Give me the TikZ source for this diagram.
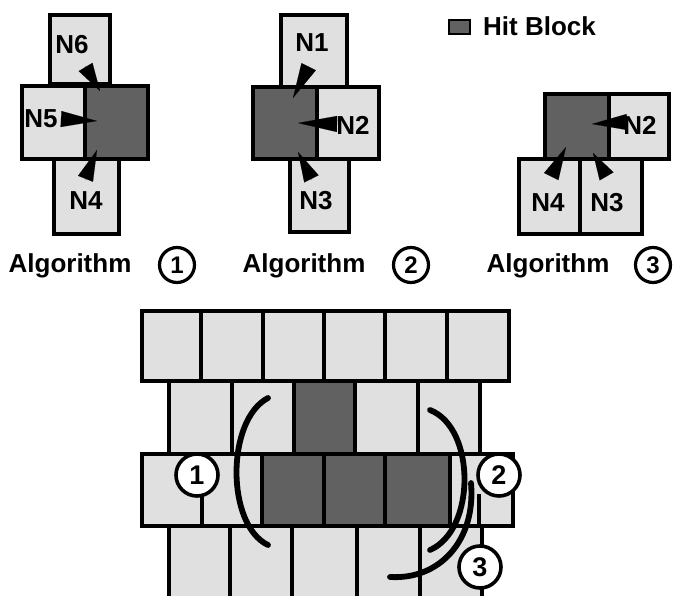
\documentclass[tikz,border=0pt]{standalone}
\usepackage{fontspec}
\setmainfont{Liberation Sans}
\usetikzlibrary{arrows.meta}
\begin{document}
\begin{tikzpicture}[x=1pt,y=-1pt,
  nb/.style={draw, line width=3.6pt, fill=black!12, inner sep=0pt, anchor=north west},
  hit/.style={nb, fill=black!62},
  gcell/.style={draw, line width=4.4pt, fill=black!12, inner sep=0pt, anchor=north west},
  ghit/.style={gcell, fill=black!62},
  lbl/.style={font=\bfseries\fontsize{26}{29}\selectfont, inner sep=0pt},
  algtxt/.style={font=\bfseries\fontsize{26}{29}\selectfont, inner sep=0pt},
  smallcirc/.style={circle, draw, line width=3.2pt, fill=white, minimum size=35pt, inner sep=0pt, font=\bfseries\fontsize{24}{27}\selectfont},
  bigcirc/.style={circle, draw, line width=3.6pt, fill=white, minimum size=42pt, inner sep=0pt, font=\bfseries\fontsize{27}{30}\selectfont},
  wedgearrow/.style={line width=0.1pt, -{Triangle[length=#1, width=16pt]}},
  arcline/.style={line width=5.8pt, line cap=round}
]
\clip (0,0) rectangle (675,596);
\fill[white] (0,0) rectangle (675,596);

% ---------- Algorithm 1 ----------
\node[nb, minimum width=60pt, minimum height=69pt] (a1n6) at (48,13) {};
\node[nb, minimum width=63pt, minimum height=73pt] (a1n5) at (20,84) {};
\node[nb, minimum width=65pt, minimum height=75pt] (a1n4) at (52,157) {};
\node[hit, minimum width=63pt, minimum height=73pt] (a1h) at (83,84) {};
\node[lbl] (a1l6) at (72,45) {N6};
\node[lbl] (a1l5) at (41,119) {N5};
\node[lbl] (a1l4) at (86,201) {N4};
\coordinate (a1t6) at (85,66);  \coordinate (a1p6) at (100,91);
\coordinate (a1t5) at (60,119); \coordinate (a1p5) at (97,121);
\coordinate (a1t4) at (85,180); \coordinate (a1p4) at (97,150);
\draw[wedgearrow=28pt] (a1t6) -- (a1p6);
\draw[wedgearrow=36pt] (a1t5) -- (a1p5);
\draw[wedgearrow=31pt] (a1t4) -- (a1p4);
\node[algtxt] (a1txt) at (70,266) {Algorithm};
\node[smallcirc] (a1c) at (177,265) {1};

% ---------- Algorithm 2 ----------
\node[nb, minimum width=66pt, minimum height=72pt] (a2n1) at (279,13) {};
\node[nb, minimum width=62pt, minimum height=72pt] (a2n2) at (315,85) {};
\node[nb, minimum width=59pt, minimum height=73pt] (a2n3) at (288,157) {};
\node[hit, minimum width=64pt, minimum height=72pt] (a2h) at (251,85) {};
\node[lbl] (a2l1) at (312,43) {N1};
\node[lbl] (a2l2) at (353,125) {N2};
\node[lbl] (a2l3) at (316,201) {N3};
\coordinate (a2t1) at (309,66);  \coordinate (a2p1) at (293,98);
\coordinate (a2t2) at (338,124); \coordinate (a2p2) at (298,123);
\coordinate (a2t3) at (312,180); \coordinate (a2p3) at (298,152);
\draw[wedgearrow=35pt] (a2t1) -- (a2p1);
\draw[wedgearrow=39pt] (a2t2) -- (a2p2);
\draw[wedgearrow=30pt] (a2t3) -- (a2p3);
\node[algtxt] (a2txt) at (304,266) {Algorithm};
\node[smallcirc] (a2c) at (411,265) {2};

% ---------- Algorithm 3 ----------
\node[nb, minimum width=60pt, minimum height=65pt] (a3n2) at (607,92) {};
\node[nb, minimum width=61pt, minimum height=75pt] (a3n4) at (517,157) {};
\node[nb, minimum width=62pt, minimum height=75pt] (a3n3) at (578,157) {};
\node[hit, minimum width=64pt, minimum height=65pt] (a3h) at (543,92) {};
\node[lbl] (a3l2) at (640,125) {N2};
\node[lbl] (a3l4) at (548,203) {N4};
\node[lbl] (a3l3) at (607,203) {N3};
\coordinate (a3t2) at (628,122); \coordinate (a3p2) at (592,124);
\coordinate (a3t4) at (551,177); \coordinate (a3p4) at (566,147);
\coordinate (a3t3) at (607,177); \coordinate (a3p3) at (593,153);
\draw[wedgearrow=35pt] (a3t2) -- (a3p2);
\draw[wedgearrow=33pt] (a3t4) -- (a3p4);
\draw[wedgearrow=27pt] (a3t3) -- (a3p3);
\node[algtxt] (a3txt) at (548,266) {Algorithm};
\node[smallcirc] (a3c) at (653,265) {3};

% ---------- Legend ----------
\node[hit, line width=2pt, minimum width=21pt, minimum height=14pt] (legsw) at (448,19) {};
\node[algtxt, anchor=west] (legtxt) at (483,26) {Hit Block};

% ---------- Bottom grid ----------
\foreach \xx/\ww [count=\i] in {140/59,199/62,261/61,322/61,383/62,445/62}
  \node[gcell, minimum width=\ww pt, minimum height=70pt] (r1c\i) at (\xx,309) {};
\foreach \xx/\ww [count=\i] in {167/63,230/62,353/63,416/62}
  \node[gcell, minimum width=\ww pt, minimum height=73pt] (r2c\i) at (\xx,379) {};
\node[ghit, minimum width=61pt, minimum height=73pt] (r2h) at (292,379) {};
\foreach \xx/\ww [count=\i] in {140/60,200/60,448/63}
  \node[gcell, minimum width=\ww pt, minimum height=72pt] (r3c\i) at (\xx,452) {};
\foreach \xx/\ww [count=\i] in {260/62,322/61,383/65}
  \node[ghit, minimum width=\ww pt, minimum height=72pt] (r3h\i) at (\xx,452) {};
\foreach \xx/\ww [count=\i] in {167/61,228/62,290/65,355/63,418/62}
  \node[gcell, minimum width=\ww pt, minimum height=90pt] (r4c\i) at (\xx,524) {};

\coordinate (stubtop) at (479,494);
\coordinate (stubbot) at (479,524);
\draw[line width=4.4pt] (stubtop) -- (stubbot);

% arcs
\coordinate (arc1s) at (268,398); \coordinate (arc1e) at (268,545);
\coordinate (arc2s) at (430,410); \coordinate (arc2e) at (430,550);
\coordinate (arc3s) at (471,483); \coordinate (arc3e) at (390,577);
\draw[arcline] (arc1s) .. controls (226,420) and (226,525) .. (arc1e);
\draw[arcline] (arc2s) .. controls (476,428) and (476,530) .. (arc2e);
\draw[arcline] (arc3s) .. controls (476,540) and (440,580) .. (arc3e);

% circles
\node[bigcirc] (c1) at (197,475) {1};
\node[bigcirc] (c2) at (499,475) {2};
\node[bigcirc] (c3) at (480,567) {3};
\end{tikzpicture}
\end{document}
